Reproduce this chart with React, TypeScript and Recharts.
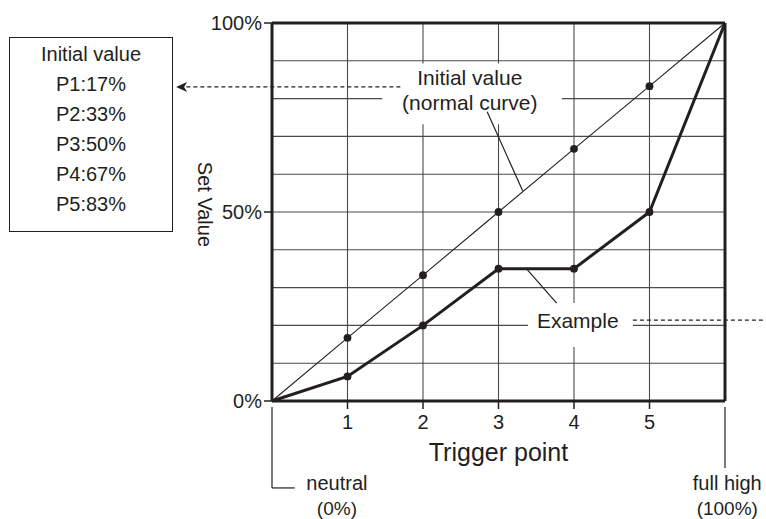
import {
  LineChart,
  Line,
  XAxis,
  YAxis,
  CartesianGrid,
  ReferenceLine,
  ReferenceArea,
  ReferenceDot,
} from "recharts";

// trigger points 0 (neutral) .. 6 (full high)
const triggerPoints = [0, 1, 2, 3, 4, 5, 6];
const initialCurve = [0, 16.7, 33.3, 50, 66.7, 83.3, 100];
const exampleCurve = [0, 6.5, 20, 35, 35, 50, 100];
const initialLabels = ["P1:17%", "P2:33%", "P3:50%", "P4:67%", "P5:83%"];
const xTicks = [1, 2, 3, 4, 5];
const yTicks = [0, 50, 100];
const gridY = [0, 10, 20, 30, 40, 50, 60, 70, 80, 90, 100];
const gridX = [0, 1, 2, 3, 4, 5, 6];

const INK = "#231f20";
const FONT = "'Liberation Sans', Arial, Helvetica, sans-serif";

const data = triggerPoints.map((p, i) => ({
  point: p,
  initial: initialCurve[i],
  example: exampleCurve[i],
}));

// only the inner trigger points get a dot
const pointDot = (props: any) => {
  const { cx, cy, payload, index } = props;
  if (payload.point < 1 || payload.point > 5) return <g key={index} />;
  return <circle key={index} cx={cx} cy={cy} r={3.9} fill={INK} />;
};

// text annotation anchored at data coords
function note(key: string, x: number, y: number, text: string, size = 20, angle = 0) {
  return (
    <ReferenceDot
      key={key}
      x={x}
      y={y}
      r={0}
      ifOverflow="visible"
      shape={(p: any) => (
        <text
          x={p.cx}
          y={p.cy}
          textAnchor="middle"
          dominantBaseline="central"
          fontSize={size}
          fill={INK}
          fontFamily={FONT}
          transform={angle ? `rotate(${angle} ${p.cx} ${p.cy})` : undefined}
        >
          {text}
        </text>
      )}
    />
  );
}

function seg(key: string, a: [number, number], b: [number, number], extra: any = {}) {
  return (
    <ReferenceLine
      key={key}
      segment={[
        { x: a[0], y: a[1] },
        { x: b[0], y: b[1] },
      ]}
      stroke={INK}
      strokeWidth={1.2}
      ifOverflow="visible"
      {...extra}
    />
  );
}

const arrowShape = (p: any) => {
  const { x1, y1, x2, y2 } = p;
  return (
    <g>
      <line x1={x1} y1={y1} x2={x2 + 6} y2={y2} stroke={INK} strokeWidth={1.2} strokeDasharray="4 3" />
      <path d={`M${x2},${y2} L${x2 + 11},${y2 - 5} L${x2 + 8},${y2} L${x2 + 11},${y2 + 5} Z`} fill={INK} />
    </g>
  );
};

export default function App() {
  return (
    <div style={{ position: "absolute", left: 0, top: 0, width: 766, height: 519, background: "#fff" }}>
      <LineChart
        width={766}
        height={519}
        data={data}
        margin={{ top: 23, right: 41, bottom: 88, left: 212 }}
      >
        <CartesianGrid
          stroke="#4a4a4a"
          strokeWidth={1.1}
          horizontalValues={gridY}
          verticalValues={gridX}
        />
        <ReferenceArea x1={1.46} x2={3.84} y1={73.2} y2={89.3} fill="#fff" fillOpacity={1} stroke="none" />
        <ReferenceArea x1={3.39} x2={4.78} y1={14.3} y2={25.9} fill="#fff" fillOpacity={1} stroke="none" />
        <XAxis
          type="number"
          dataKey="point"
          domain={[0, 6]}
          ticks={xTicks}
          interval={0}
          height={30}
          tickSize={8}
          tickMargin={6}
          axisLine={{ stroke: INK, strokeWidth: 3 }}
          tickLine={{ stroke: INK, strokeWidth: 1.5 }}
          tick={{ fill: INK, fontSize: 20, fontFamily: FONT }}
        />
        <YAxis
          type="number"
          domain={[0, 100]}
          ticks={yTicks}
          width={60}
          tickSize={8}
          tickMargin={2}
          tickFormatter={(v) => `${v}%`}
          axisLine={{ stroke: INK, strokeWidth: 3 }}
          tickLine={{ stroke: INK, strokeWidth: 1.5 }}
          tick={{ fill: INK, fontSize: 20, fontFamily: FONT }}
        />
        <ReferenceLine y={100} stroke={INK} strokeWidth={3} />
        <ReferenceLine x={6} stroke={INK} strokeWidth={3} />

        {/* leader lines, brackets, dashed pointers */}
        {seg("leadInit", [2.85, 76.5], [3.32, 55.6])}
        {seg("leadEx", [3.36, 35.2], [3.77, 25.9])}
        {seg("neutralV", [0, -1.6], [0, -23])}
        {seg("neutralH", [0, -23], [0.3, -23])}
        {seg("fullV", [6, -1.6], [6, -17.7])}
        {seg("exDash", [4.78, 21.4], [6.6, 21.4], { strokeDasharray: "4 3" })}
        {seg("initArrow", [1.7, 83.1], [-1.27, 83.1], { shape: arrowShape })}

        <Line
          type="linear"
          dataKey="initial"
          stroke={INK}
          strokeWidth={1.1}
          dot={pointDot}
          activeDot={false}
          isAnimationActive={false}
        />
        <Line
          type="linear"
          dataKey="example"
          stroke={INK}
          strokeWidth={3}
          dot={pointDot}
          activeDot={false}
          isAnimationActive={false}
        />

        {note("setValue", -0.89, 52, "Set Value", 20, 90)}
        {note("init1", 2.62, 85.7, "Initial value", 21)}
        {note("init2", 2.62, 79.1, "(normal curve)", 21)}
        {note("example", 4.05, 21.2, "Example", 21)}
        {note("trigger", 3, -13.5, "Trigger point", 25)}
        {note("neutral1", 0.86, -21.8, "neutral", 20)}
        {note("neutral2", 0.86, -28.4, "(0%)", 19)}
        {note("full1", 6.03, -21.8, "full high", 20)}
        {note("full2", 6.03, -28.4, "(100%)", 19)}
      </LineChart>

      <div
        style={{
          position: "absolute",
          left: 9,
          top: 37,
          width: 162,
          height: 192,
          border: `1.5px solid ${INK}`,
          paddingTop: 1,
          boxSizing: "content-box",
          fontFamily: FONT,
          fontSize: 20,
          color: INK,
          textAlign: "center",
          lineHeight: "30px",
        }}
      >
        <div>Initial value</div>
        {initialLabels.map((t) => (
          <div key={t}>{t}</div>
        ))}
      </div>
    </div>
  );
}
